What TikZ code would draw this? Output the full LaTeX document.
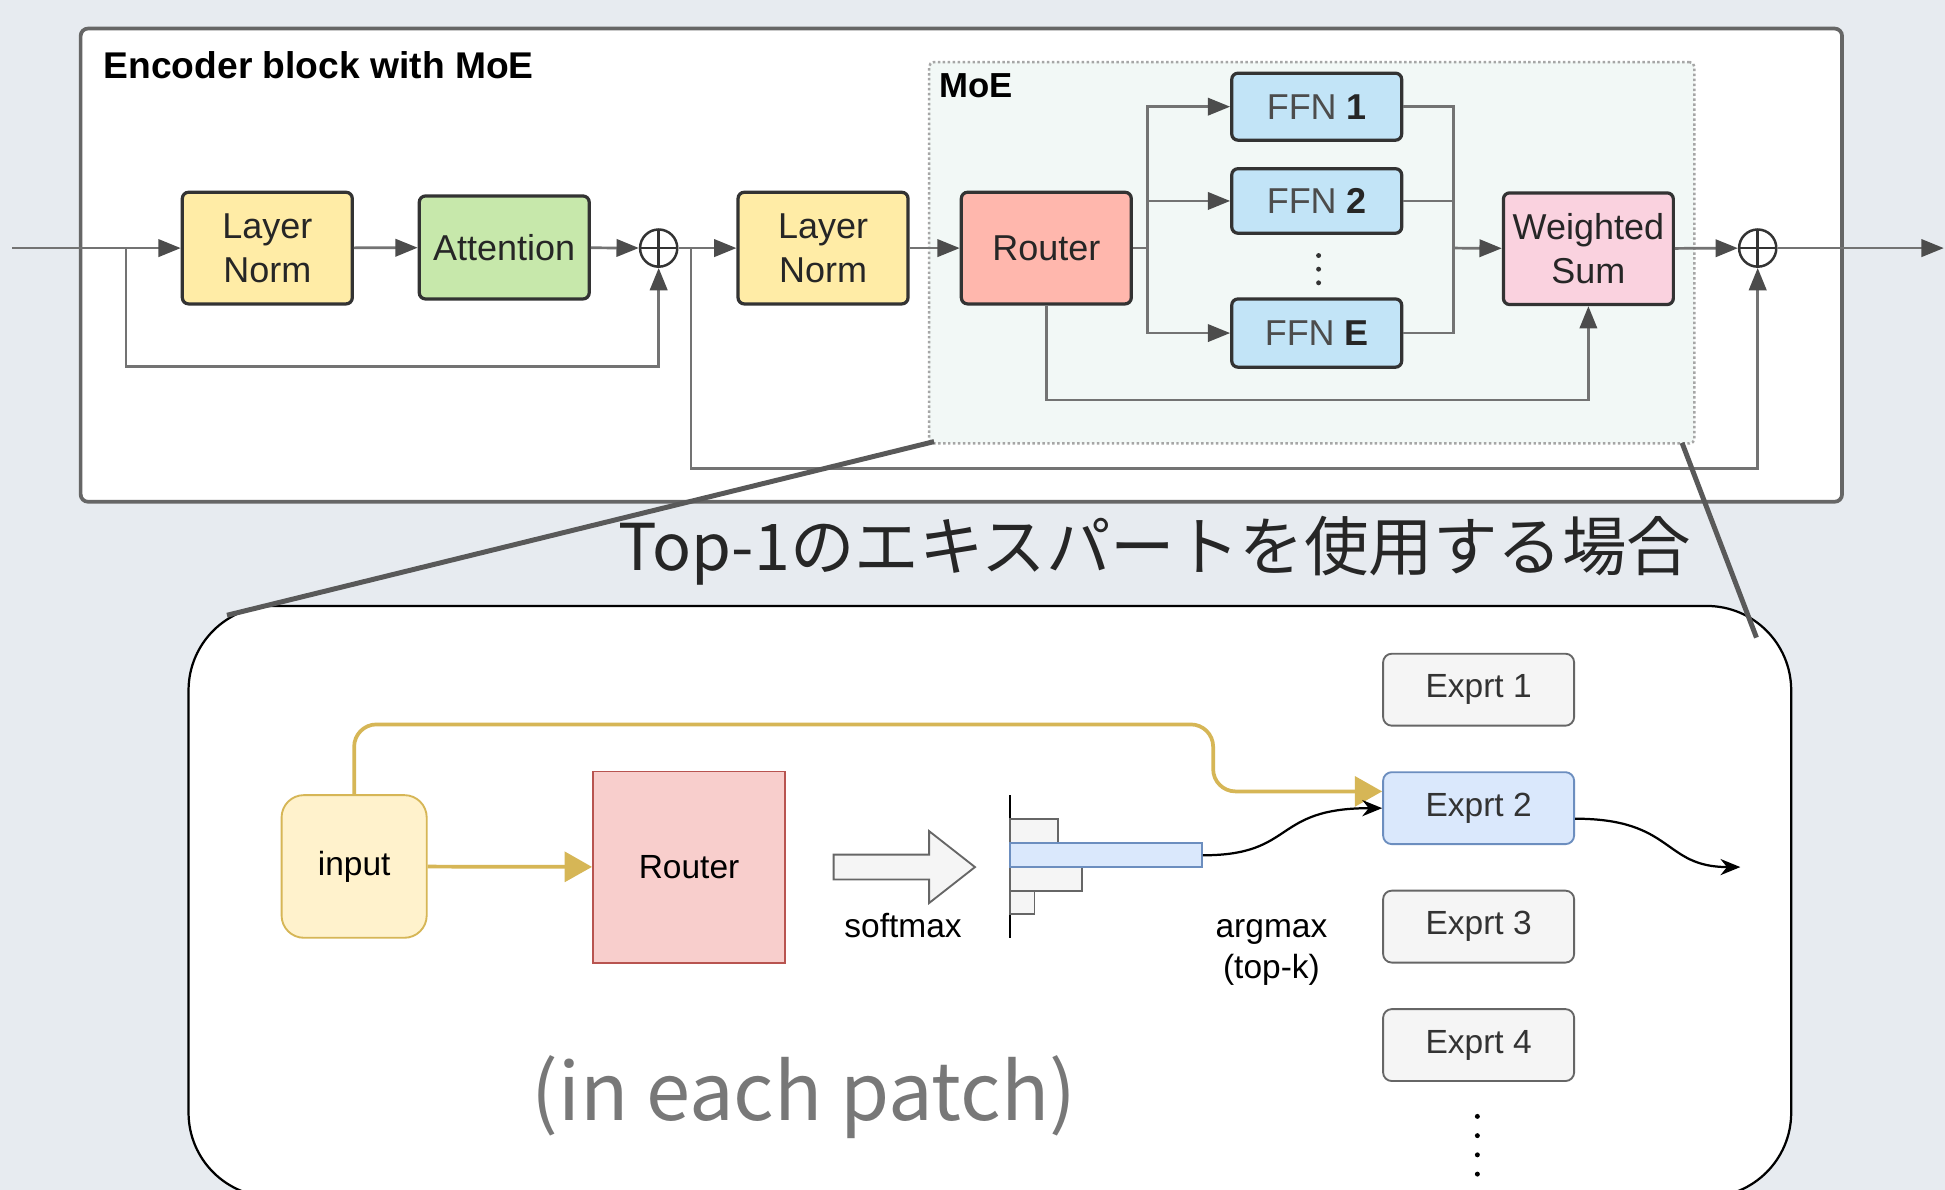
\documentclass[tikz,border=0pt]{standalone}
\usepackage{fontspec}
\setmainfont{Liberation Sans}
\newfontfamily\jpfont{Noto Sans CJK JP}
\usepackage{tikz}
\usetikzlibrary{positioning,arrows.meta}
\definecolor{bgblue}{HTML}{E7EBF0}
\definecolor{normyellow}{HTML}{FFECA6}
\definecolor{attgreen}{HTML}{C7E8AB}
\definecolor{routerred}{HTML}{FFB7AD}
\definecolor{ffnblue}{HTML}{C2E4F7}
\definecolor{sumpink}{HTML}{FAD2DF}
\definecolor{moefill}{HTML}{F2F8F6}
\definecolor{inyellow}{HTML}{FFF2CC}
\definecolor{inborder}{HTML}{D6B656}
\definecolor{rtfill}{HTML}{F8CECC}
\definecolor{rtborder}{HTML}{B85450}
\definecolor{expfill}{HTML}{F5F5F5}
\definecolor{selfill}{HTML}{DAE8FC}
\definecolor{selborder}{HTML}{6C8EBF}

\begin{document}
\begin{tikzpicture}[x=1pt,y=-1pt]
  \tikzstyle{block}=[draw=black!80, line width=2.6pt, rounded corners=5pt, align=center, text=black!85,
font=\fontsize{29}{35}\selectfont, minimum width=137pt, minimum height=90pt, inner sep=0pt]
  \tikzstyle{plus}=[circle, draw=black!80, line width=2pt, minimum size=30pt, inner sep=0pt,
path picture={\draw[line width=2pt, black!80] (path picture bounding box.north) -- (path picture bounding box.south)
(path picture bounding box.west) -- (path picture bounding box.east);}]
  \tikzstyle{line}=[draw=black!55, line width=2.2pt]
  \tikzstyle{flow}=[line, -{Triangle[length=18pt, width=14pt, color=black!70]}]
  \tikzstyle{expert}=[draw=black!60, fill=expfill, line width=1.5pt, rounded corners=7pt, minimum width=154pt,
minimum height=58pt, inner sep=0pt, text=black!80, font=\fontsize{27}{32}\selectfont]
  \tikzstyle{bar}=[draw=black!60, fill=expfill, line width=1.5pt]
  \tikzstyle{goldflow}=[draw=inborder, line width=3pt, -{Triangle[length=22pt, width=24pt]}]
  \tikzstyle{wavy}=[draw=black, line width=1.8pt, -{Stealth[length=16pt, width=13pt]}]

  \clip (0,0) rectangle (1568,959);
  \fill[bgblue] (0,0) rectangle (1568,959);

  \draw[black!60, line width=3pt, fill=white, rounded corners=6pt] (65,23) rectangle (1485,404.5);
  \node[anchor=base west, font=\bfseries\fontsize{30}{36}\selectfont] (T_enc) at (80,63.5) {Encoder block with MoE};
  \node[draw=black!35, dotted, line width=2pt, fill=moefill, rounded corners=4pt, minimum width=617pt,
minimum height=307.5pt] (M_box) at (1057.5,203.75) {};
  \node[anchor=base west, font=\bfseries\fontsize{28}{34}\selectfont] (M_lab) at (754,78.7) {MoE};

  \node[block, fill=normyellow] (E_ln1) at (215.5,200) {Layer\\Norm};
  \node[block, fill=attgreen, minimum height=83pt] (E_att) at (406.5,199.5) {Attention};
  \node[plus] (E_add1) at (531,200) {};
  \node[block, fill=normyellow] (E_ln2) at (663.5,200) {Layer\\Norm};
  \node[block, fill=routerred] (E_rt) at (843.5,200) {Router};
  \node[block, fill=ffnblue, minimum height=54pt] (E_ffn1) at (1061.5,86) {{\color{black!70}FFN} \textbf{1}};
  \node[block, fill=ffnblue, minimum height=52pt] (E_ffn2) at (1061.5,162) {{\color{black!70}FFN} \textbf{2}};
  \node[block, fill=ffnblue, minimum height=55pt] (E_ffnE) at (1061.5,268.5) {{\color{black!70}FFN} \textbf{E}};
  \node[block, fill=sumpink] (E_ws) at (1280.5,200.5) {Weighted\\Sum};
  \node[plus] (E_add2) at (1417,200) {};
  \foreach \y in {206,217,228}
    \fill[black!80] (1063,\y) circle (2pt);

  \coordinate (E_in) at (10,200);
  \coordinate (E_out) at (1567,200);
  \coordinate (E_r1) at (101.5,200);
  \coordinate (E_r2) at (557,200);
  \coordinate (E_split) at (925,200);
  \coordinate (E_merge) at (1171.5,200);
  \coordinate (E_low) at (843.5,322.5);

  \draw[flow] (E_in) -- (E_ln1);
  \draw[flow] (E_ln1) -- (E_att);
  \draw[flow] (E_att) -- (E_add1);
  \draw[flow] (E_add1) -- (E_ln2);
  \draw[flow] (E_ln2) -- (E_rt);
  \draw[line] (E_rt) -- (E_split);
  \draw[flow] (E_split) |- (E_ffn1);
  \draw[flow] (E_split) |- (E_ffn2);
  \draw[flow] (E_split) |- (E_ffnE);
  \draw[line] (E_ffn1) -| (E_merge);
  \draw[line] (E_ffn2) -| (E_merge);
  \draw[line] (E_ffnE) -| (E_merge);
  \draw[flow] (E_merge) -- (E_ws);
  \draw[flow] (E_rt) -- (E_low) -| (E_ws);
  \draw[flow] (E_ws) -- (E_add2);
  \draw[flow] (E_add2) -- (E_out);
  \draw[flow] (E_r1) -- ++(0,95.5) -| (E_add1);
  \draw[flow] (E_r2) -- ++(0,177.5) -| (E_add2);

  \node[font=\jpfont\fontsize{52}{60}\selectfont, text=black!85] (T_jp) at (931,444) {Top-1のエキスパートを使用する場合};

  \node[draw=black, line width=1.8pt, fill=white, rounded corners=68pt, minimum width=1292pt,
minimum height=476.5pt] (Z_box) at (798,726.75) {};
  \coordinate (Z_tl) at (183,496);
  \coordinate (Z_tr) at (1416,514);
  \draw[black!65, line width=4pt] ([xshift=5pt,yshift=2.5pt]M_box.south west) -- (Z_tl);
  \draw[black!65, line width=4pt] ([xshift=-11pt,yshift=1.5pt]M_box.south east) -- (Z_tr);

  \node[draw=inborder, fill=inyellow, line width=1.5pt, rounded corners=18pt, minimum width=117pt,
minimum height=115pt, font=\fontsize{27}{32}\selectfont] (P_in) at (285.5,698.5) {input};
  \node[draw=rtborder, fill=rtfill, line width=1.5pt, minimum width=155pt, minimum height=154pt,
font=\fontsize{27}{32}\selectfont] (P_rt) at (555.5,699) {Router};
  \draw[draw=black!60, fill=expfill, line width=1.5pt] (672,689) -- (749,689) -- (749,670) -- (786,699)
-- (749,728) -- (749,709) -- (672,709) -- cycle;
  \node[font=\fontsize{27}{32}\selectfont] (P_soft) at (728,746) {softmax};

  \draw[black, line width=1.8pt] (814,641) -- (814,756);
  \draw[bar] (814,660) rectangle (853,680);
  \draw[bar] (814,699) rectangle (872,718);
  \draw[bar] (814,718) rectangle (834,737);
  \node[draw=selborder, fill=selfill, line width=1.5pt, minimum width=155pt, minimum height=19.5pt,
inner sep=0pt] (P_top) at (891.5,689.5) {};
  \node[align=center, font=\fontsize{27}{33}\selectfont] (P_arg) at (1025,768) {argmax\\(top-k)};

  \node[expert] (X_1) at (1192,556) {Exprt 1};
  \node[expert, fill=selfill, draw=selborder] (X_2) at (1192,651.5) {Exprt 2};
  \node[expert] (X_3) at (1192,747) {Exprt 3};
  \node[expert] (X_4) at (1192,842.5) {Exprt 4};
  \foreach \y in {900,915.5,931,946.5}
    \fill[black] (1191,\y) circle (2pt);

  \coordinate (P_gold) at (978,638);
  \coordinate (P_out) at (1403,699);
  \draw[goldflow] (P_in) -- (P_rt);
  \draw[goldflow, rounded corners=18pt] (P_in.north) -- (285.5,584) -- (978,584) -- (P_gold) -- (P_gold -| X_2.west);
  \draw[wavy] (P_top.east) .. controls (1045,689.5) and (1025,651.5) .. (X_2.west);
  \draw[wavy] ([yshift=-8.5pt]X_2.east) .. controls (1350,660) and (1340,699) .. (P_out);

  \node[anchor=base west, font=\jpfont\fontsize{64}{70}\selectfont, text=black!53] (P_note) at (425,903.5) {(in each patch)};
\end{tikzpicture}
\end{document}
